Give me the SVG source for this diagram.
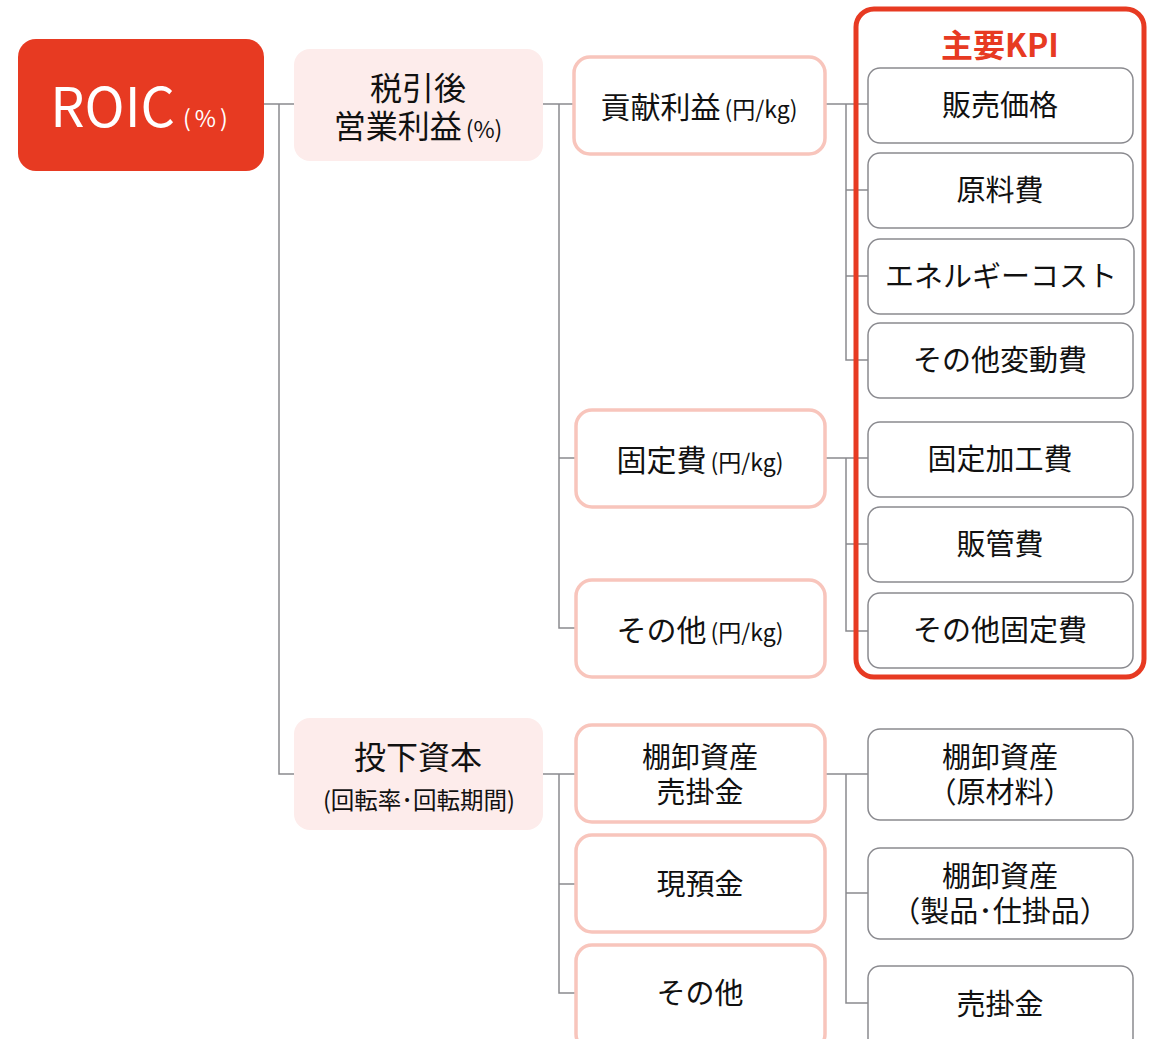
<svg xmlns="http://www.w3.org/2000/svg" width="1153" height="1039" viewBox="0 0 1153 1039">
<style>
text{font-family:"Noto Sans CJK JP","Noto Sans",sans-serif;fill:#111;text-anchor:middle}
.l1{fill:#fdeceb}
.l2{fill:#fff;stroke:#f8c5bc;stroke-width:3.5}
.l3{fill:#fff;stroke:#8a8a8f;stroke-width:1.5}
.b{font-size:32px}
.m{font-size:30px}
.t{font-size:29px}
.s{font-size:23px}
.c{fill:none;stroke:#8a8a8f;stroke-width:1.5}
</style>
<rect width="1153" height="1039" fill="#fff"/>
<g id="connectors" class="c">
<path d="M264 104H294M279 104V774H294"/>
<path d="M543 104H573M559 104V628H575M559 458H575"/>
<path d="M825 104H868M846 104V360H868M846 190H868M846 276H868"/>
<path d="M825 458H868M846 458V631H868M846 544H868"/>
<path d="M543 774H575M559 774V993H575M559 884H575"/>
<path d="M825 774H868M846 774V1003H868M846 893H868"/>
</g>
<g id="kpi-frame">
<rect x="856" y="9" width="288" height="668" rx="18" fill="none" stroke="#e73a22" stroke-width="5"/>
<text x="1000" y="57" style="font-size:32px;fill:#e73a22;font-weight:bold">主要KPI</text>
</g>
<g id="roic"><rect x="18" y="39" width="246" height="132" rx="18" fill="#e73a22"/>
<text x="141" y="127"><tspan style="font-size:54px;fill:#fff">ROIC</tspan><tspan dx="8" style="font-size:23px;fill:#fff;letter-spacing:4px">(%)</tspan></text></g>
<g id="nopat"><rect class="l1" x="294" y="49" width="249" height="112" rx="16"/>
<text class="b" x="418" y="100">税引後</text>
<text x="418" y="138"><tspan class="b">営業利益</tspan><tspan dx="4" class="s">(%)</tspan></text></g>
<g id="invested"><rect class="l1" x="294" y="718" width="249" height="112" rx="16"/>
<text class="b" x="418" y="769">投下資本</text>
<text x="419" y="809" style="font-size:23.5px">(回転率･回転期間)</text></g>
<g id="contrib"><rect class="l2" x="574" y="57" width="251" height="97" rx="16"/>
<text x="699" y="118"><tspan class="m">貢献利益</tspan><tspan dx="4" class="s">(円/kg)</tspan></text></g>
<g id="fixed"><rect class="l2" x="576" y="410" width="249" height="97" rx="16"/>
<text x="700" y="471"><tspan class="m">固定費</tspan><tspan dx="4" class="s">(円/kg)</tspan></text></g>
<g id="other1"><rect class="l2" x="576" y="580" width="249" height="97" rx="16"/>
<text x="700" y="641"><tspan class="m">その他</tspan><tspan dx="4" class="s">(円/kg)</tspan></text></g>
<g id="inv-ar"><rect class="l2" x="576" y="725" width="249" height="97" rx="16"/>
<text class="t" x="700" y="768">棚卸資産</text><text class="t" x="700" y="803">売掛金</text></g>
<g id="cash"><rect class="l2" x="576" y="835" width="249" height="97" rx="16"/>
<text class="t" x="700" y="895">現預金</text></g>
<g id="other2"><rect class="l2" x="576" y="945" width="249" height="105" rx="16"/>
<text class="t" x="700" y="1004">その他</text></g>
<g id="k1"><rect class="l3" x="868" y="68" width="265" height="75" rx="12"/><text class="t" x="1000" y="116">販売価格</text></g>
<g id="k2"><rect class="l3" x="868" y="153" width="265" height="75" rx="12"/><text class="t" x="1000" y="201">原料費</text></g>
<g id="k3"><rect class="l3" x="868" y="239" width="266" height="75" rx="12"/><text class="t" x="1001" y="287">エネルギーコスト</text></g>
<g id="k4"><rect class="l3" x="868" y="323" width="265" height="75" rx="12"/><text class="t" x="1000" y="371">その他変動費</text></g>
<g id="k5"><rect class="l3" x="868" y="422" width="265" height="75" rx="12"/><text class="t" x="1000" y="470">固定加工費</text></g>
<g id="k6"><rect class="l3" x="868" y="507" width="265" height="75" rx="12"/><text class="t" x="1000" y="555">販管費</text></g>
<g id="k7"><rect class="l3" x="868" y="593" width="265" height="75" rx="12"/><text class="t" x="1000" y="641">その他固定費</text></g>
<g id="r1"><rect class="l3" x="868" y="729" width="265" height="91" rx="12"/>
<text class="t" x="1000" y="768">棚卸資産</text><text class="t" x="1000" y="803">（原材料）</text></g>
<g id="r2"><rect class="l3" x="868" y="848" width="265" height="91" rx="12"/>
<text class="t" x="1000" y="887">棚卸資産</text><text class="t" x="1000" y="922">（製品･仕掛品）</text></g>
<g id="r3"><rect class="l3" x="868" y="966" width="265" height="84" rx="12"/><text class="t" x="1000" y="1015">売掛金</text></g>
</svg>
